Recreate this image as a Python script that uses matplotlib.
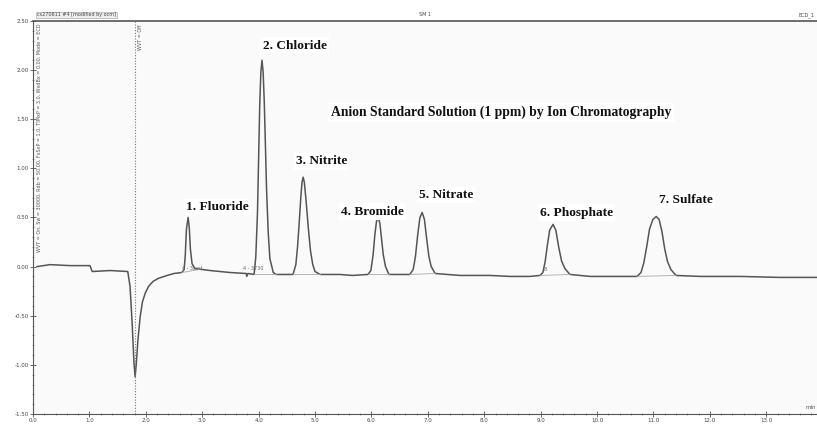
import matplotlib.pyplot as plt
from matplotlib.ticker import MultipleLocator, FormatStrFormatter

# detector trace (retention time in min, signal)
trace_t = [0.07, 0.30, 0.66, 1.01, 1.05, 1.37, 1.68, 1.72, 1.76, 1.79, 1.81, 1.83, 1.86, 1.90, 1.94,
           1.99, 2.05, 2.13, 2.22, 2.38, 2.50, 2.64,
           2.68, 2.70, 2.72, 2.75, 2.77, 2.79, 2.82, 2.87,
           3.14, 3.49, 3.78, 3.79, 3.81, 3.92,
           3.95, 3.98, 4.00, 4.02, 4.04, 4.06, 4.08, 4.10, 4.12, 4.14, 4.17, 4.20, 4.26, 4.31,
           4.47, 4.61,
           4.66, 4.69, 4.72, 4.75, 4.77, 4.79, 4.81, 4.84, 4.88, 4.92, 4.96, 5.00, 5.09,
           5.44, 5.66, 5.94,
           5.99, 6.03, 6.06, 6.09, 6.12, 6.15, 6.18, 6.21, 6.25, 6.31,
           6.51, 6.68,
           6.74, 6.78, 6.82, 6.86, 6.90, 6.94, 6.98, 7.02, 7.06, 7.13,
           7.57, 8.10, 8.46, 8.81, 8.99,
           9.04, 9.08, 9.12, 9.16, 9.22, 9.27, 9.32, 9.37, 9.43, 9.52,
           9.88, 10.23, 10.50, 10.71,
           10.78, 10.83, 10.88, 10.93, 10.99, 11.05, 11.10, 11.15, 11.20, 11.25, 11.31, 11.40,
           11.83, 12.54, 13.24, 13.90]
trace_y = [0.00, 0.02, 0.01, 0.01, -0.05, -0.04, -0.05, -0.20, -0.60, -0.98, -1.12, -1.00, -0.75,
           -0.51, -0.36, -0.27, -0.20, -0.15, -0.12, -0.09, -0.07, -0.06,
           -0.03, 0.12, 0.38, 0.50, 0.40, 0.18, 0.03, -0.02,
           -0.04, -0.06, -0.07, -0.10, -0.07, -0.08,
           0.10, 0.55, 1.10, 1.65, 1.98, 2.10, 1.98, 1.68, 1.25, 0.80, 0.35, 0.08, -0.06, -0.08,
           -0.08, -0.08,
           0.02, 0.20, 0.45, 0.72, 0.86, 0.91, 0.86, 0.68, 0.40, 0.16, 0.02, -0.05, -0.08,
           -0.08, -0.09, -0.08,
           -0.04, 0.12, 0.32, 0.46, 0.50, 0.44, 0.28, 0.12, 0.00, -0.08,
           -0.08, -0.08,
           -0.03, 0.10, 0.32, 0.50, 0.55, 0.48, 0.28, 0.10, 0.00, -0.07,
           -0.09, -0.09, -0.10, -0.10, -0.09,
           -0.06, 0.05, 0.22, 0.37, 0.43, 0.37, 0.20, 0.06, -0.02, -0.08,
           -0.10, -0.10, -0.10, -0.10,
           -0.06, 0.04, 0.20, 0.38, 0.48, 0.51, 0.48, 0.36, 0.18, 0.05, -0.03, -0.09,
           -0.10, -0.10, -0.11, -0.11]

peak_names = ['1. Fluoride', '2. Chloride', '3. Nitrite', '4. Bromide',
              '5. Nitrate', '6. Phosphate', '7. Sulfate']
label_t = [2.72, 4.07, 4.66, 5.46, 6.85, 8.99, 11.10]
label_y = [0.61, 2.25, 1.07, 0.56, 0.73, 0.55, 0.68]

# integration baselines under each peak
base_t0 = [2.64, 3.92, 4.61, 5.94, 6.68, 8.99, 10.71]
base_t1 = [2.95, 4.31, 5.09, 6.31, 7.13, 9.52, 11.40]
base_y0 = [-0.06, -0.08, -0.08, -0.08, -0.08, -0.09, -0.10]
base_y1 = [-0.03, -0.08, -0.08, -0.08, -0.07, -0.08, -0.09]

title = 'Anion Standard Solution (1 ppm) by Ion Chromatography'
inject_t = 1.81

fig = plt.figure(figsize=(8.17, 4.24), dpi=100)
fig.patch.set_facecolor('white')
ax = fig.add_axes([0.0404, 0.0236, 0.9596, 0.927])
ax.set_facecolor('#fafafa')

ax.plot(trace_t, trace_y, color='#555555', lw=1.1)
for a, b, c, d in zip(base_t0, base_t1, base_y0, base_y1):
    ax.plot([a, b], [c, d], color='#aaaaaa', lw=0.6)

ax.axvline(inject_t, color='#777777', lw=0.8, ls=(0, (1, 1.5)))

serif = ['Liberation Serif', 'DejaVu Serif']
for name, x, y in zip(peak_names, label_t, label_y):
    ax.text(x, y, name, family=serif, fontweight='bold', fontsize=9.6,
            ha='left', va='center', color='#111111',
            bbox=dict(facecolor='white', edgecolor='none', pad=1.5))
ax.text(5.28, 1.57, title, family=serif, fontweight='bold', fontsize=9.8,
        ha='left', va='center', color='#111111',
        bbox=dict(facecolor='white', edgecolor='none', pad=2))

# small integration marks
ax.text(2.64, -0.02, '4 - 3ssst', fontsize=3.5, color='#666666', ha='left', va='center')
ax.text(3.73, -0.02, '4 - 3730', fontsize=3.5, color='#666666', ha='left', va='center')
ax.text(9.05, -0.03, '8', fontsize=3.5, color='#666666', ha='left', va='center')

# rotated info texts
ax.text(0.06, 2.47, 'WVT = On, Sw = 30000, Rdb = 50.00, FxSxP = 1.0, TIMxP = 3.0, WxdBx = 0.00, Mode = ECD',
        rotation=90, fontsize=3.5, color='#555555', ha='left', va='top')
ax.text(inject_t + 0.05, 2.47, 'WVT = Off', rotation=90, fontsize=3.5,
        color='#555555', ha='left', va='top')
ax.text(13.88, -1.46, 'min', fontsize=4, color='#555555', ha='right', va='bottom')

ax.set_xlim(0, 13.9)
ax.set_ylim(-1.5, 2.5)
ax.xaxis.set_major_locator(MultipleLocator(1.0))
ax.xaxis.set_minor_locator(MultipleLocator(0.2))
ax.yaxis.set_major_locator(MultipleLocator(0.5))
ax.yaxis.set_minor_locator(MultipleLocator(0.1))
ax.xaxis.set_major_formatter(FormatStrFormatter('%.1f'))
ax.yaxis.set_major_formatter(FormatStrFormatter('%.2f'))
ax.tick_params(axis='both', which='major', direction='inout', length=4, width=0.6,
               labelsize=4, labelcolor='#444444', color='#555555', pad=1)
ax.tick_params(axis='both', which='minor', direction='inout', length=2, width=0.5,
               color='#777777')

ax.spines['right'].set_visible(False)
ax.spines['left'].set_color('#555555')
ax.spines['bottom'].set_color('#555555')
ax.spines['top'].set_color('#555555')
ax.spines['top'].set_linewidth(1.2)

# header bar
fig.text(0.045, 0.965, 'cs270611 #4 [modified by ocm]', fontsize=3.5, color='#444444',
         ha='left', va='center',
         bbox=dict(facecolor='#eeeeee', edgecolor='#999999', lw=0.4, pad=0.6))
fig.text(0.52, 0.965, 'SM 1', fontsize=3.5, color='#444444', ha='center', va='center')
fig.text(0.997, 0.965, 'ECD_1', fontsize=3.5, color='#444444', ha='right', va='center')

fig.savefig('out.png', dpi=100)
